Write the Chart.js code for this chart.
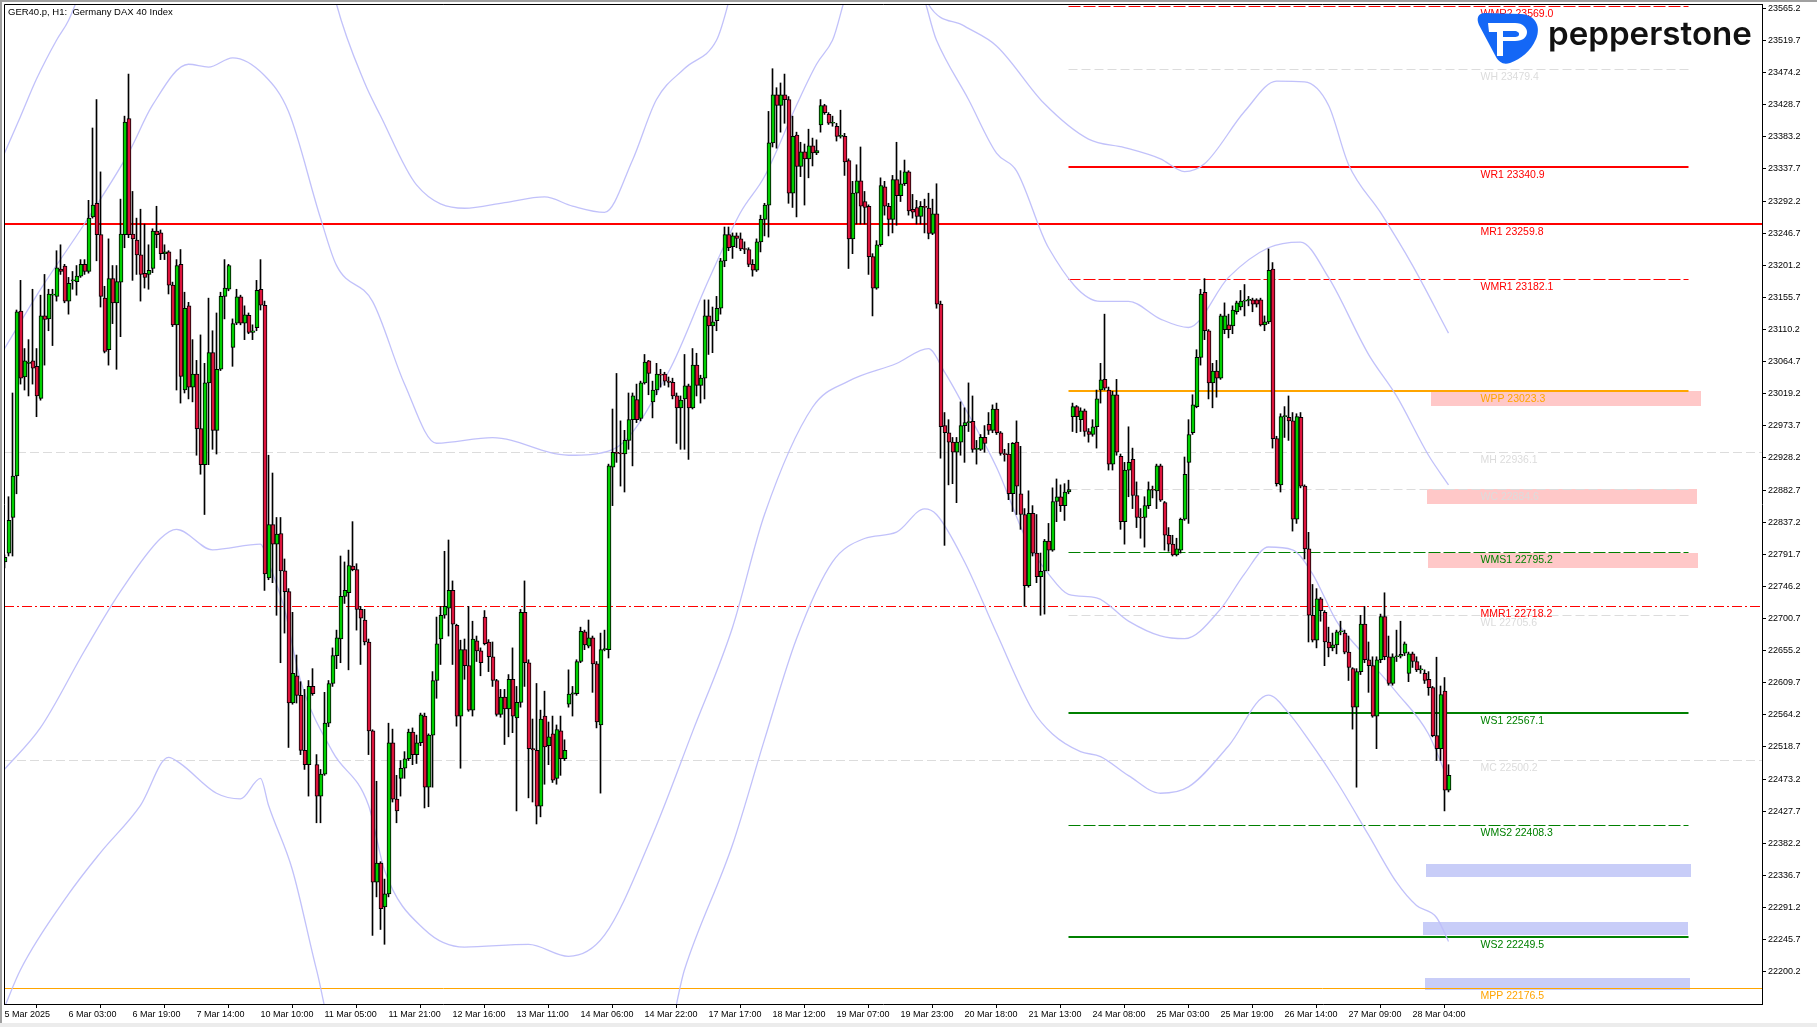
<!DOCTYPE html>
<html><head><meta charset="utf-8">
<script src="https://cdn.jsdelivr.net/npm/chart.js@4.4.1/dist/chart.umd.min.js"></script>
<style>html,body{margin:0;padding:0;background:#fff;overflow:hidden}#wrap{position:relative;width:1817px;height:1027px}</style>
</head><body><div id="wrap"><canvas id="c" width="1817" height="1027"></canvas></div>
<script>
// ---------------- DATA ----------------
const openP=[22780.8,22793.4,22843.8,22902.6,23136.1,23042.9,23062.2,23065.6,23058.0,23012.6,
23129.4,23125.2,23158.8,23157.1,23195.8,23200.0,23150.4,23179.0,23178.1,23185.7,
23202.5,23192.4,23269.7,23289.0,23244.5,23154.6,23081.5,23182.3,23147.9,23177.3,
23244.5,23409.1,23245.3,23236.9,23215.9,23189.9,23188.2,23196.6,23249.5,23247.0,
23217.6,23220.1,23173.1,23116.8,23202.5,23024.4,23143.7,23028.6,23047.1,22969.8,
22918.6,23034.5,23077.3,22967.3,23053.8,23157.1,23167.2,23084.9,23119.3,23156.3,
23119.3,23130.2,23105.9,23112.6,23167.2,23144.5,22758.1,22833.7,22806.0,22821.1,
22768.2,22738.8,22580.9,22619.5,22591.8,22513.7,22493.5,22604.4,22493.5,22449.0,
22480.1,22552.3,22608.6,22648.1,22671.6,22732.1,22737.1,22775.0,22769.9,22713.6,
22698.5,22667.4,22541.4,22327.2,22354.1,22291.9,22310.4,22524.6,22444.8,22474.2,
22488.5,22501.9,22539.7,22507.8,22524.6,22562.4,22461.6,22535.5,22612.8,22671.6,
22705.2,22715.3,22740.5,22690.9,22562.4,22656.5,22633.8,22570.8,22669.1,22654.8,
22702.7,22667.4,22646.4,22612.8,22564.9,22589.3,22572.5,22614.5,22559.9,22581.7,
22709.4,22638.0,22516.2,22513.7,22434.7,22562.4,22520.4,22537.2,22474.2,22541.4,
22501.9,22579.2,22593.5,22594.3,22639.7,22681.7,22661.5,22673.3,22636.3,22549.8,
22656.5,22656.5,22915.2,22936.2,22934.5,22933.7,22953.0,22982.4,23011.0,22984.1,
23034.5,23065.6,23007.6,23024.4,23047.1,23047.1,23037.0,23035.3,23016.0,22999.2,
23011.8,23030.3,22999.2,23059.7,23031.1,23041.2,23129.4,23115.1,23122.7,23140.3,
23207.5,23244.5,23227.7,23242.8,23238.6,23224.3,23223.5,23202.5,23194.1,23234.4,
23266.3,23286.5,23374.7,23442.7,23427.6,23442.7,23436.0,23303.3,23385.6,23341.1,
23362.1,23352.0,23370.5,23360.4,23399.9,23427.6,23415.0,23402.4,23398.2,23383.9,
23383.9,23349.5,23238.6,23303.3,23320.9,23291.5,23284.8,23213.4,23168.9,23230.2,
23312.5,23284.8,23266.3,23322.6,23299.9,23316.7,23333.5,23280.6,23283.1,23270.5,
23284.8,23282.3,23246.2,23273.9,23146.2,22974.0,22963.9,22950.5,22936.2,22950.5,
22974.0,22978.2,22979.9,22940.4,22940.4,22957.2,22975.7,22967.3,22997.5,22963.9,
22934.5,22933.7,22877.4,22950.5,22877.4,22848.0,22747.2,22849.7,22793.4,22759.8,
22768.2,22810.2,22797.6,22866.5,22873.2,22860.6,22879.9,22986.6,23000.9,22982.4,
22995.0,22965.6,22961.4,22972.3,23024.4,23039.5,23024.4,22919.4,23017.7,22930.3,
22837.9,22911.0,22926.1,22874.9,22843.8,22843.8,22860.6,22883.3,22881.6,22916.9,
22864.8,22818.6,22806.0,22790.9,22797.6,22841.3,22921.9,22963.9,23000.9,23070.6,
23163.0,23108.4,23034.5,23051.3,23041.2,23110.1,23116.8,23115.1,23135.3,23142.0,
23150.4,23151.2,23152.1,23152.1,23152.1,23116.8,23121.0,23195.8,22955.5,22890.0,
22986.6,22985.8,22980.7,22841.3,22985.8,22888.3,22799.3,22705.2,22669.9,22728.7,
22709.4,22667.4,22659.0,22663.2,22681.7,22680.0,22653.1,22629.6,22575.0,22625.4,
22692.6,22642.2,22633.8,22562.4,22642.2,22703.5,22646.4,22608.6,22646.4,22647.2,
22651.4,22622.9,22650.6,22639.7,22627.9,22622.9,22614.5,22602.7,22534.7,22516.2,
22597.7,22457.4];
const highP=[22790.9,22873.2,23020.2,23137.8,23179.8,23083.2,23095.8,23167.2,23083.2,23158.8,
23188.2,23167.2,23167.2,23221.8,23230.2,23202.5,23184.0,23192.4,23200.8,23209.2,
23209.2,23293.2,23395.7,23436.0,23333.5,23171.4,23238.6,23200.8,23200.8,23294.9,
23412.5,23472.1,23305.8,23268.0,23280.6,23259.6,23230.2,23252.9,23284.8,23251.2,
23230.2,23221.8,23177.3,23209.2,23223.5,23163.0,23148.7,23095.8,23066.4,23102.5,
23062.2,23154.6,23108.4,23133.6,23163.0,23209.2,23202.5,23125.2,23167.2,23158.8,
23143.7,23133.6,23116.8,23179.8,23209.2,23150.4,22932.0,22906.8,22843.8,22843.8,
22785.0,22743.0,22709.4,22648.9,22611.1,22600.2,22612.8,22629.6,22507.8,22486.8,
22596.0,22612.8,22659.0,22684.2,22789.2,22780.8,22797.6,22837.9,22778.3,22717.8,
22713.6,22671.6,22543.0,22470.0,22356.0,22331.4,22552.3,22543.9,22478.4,22499.4,
22512.0,22543.9,22545.6,22535.5,22566.6,22566.6,22537.2,22625.4,22702.7,22717.8,
22795.9,22811.9,22753.9,22692.6,22669.9,22671.6,22717.8,22696.8,22675.8,22659.0,
22711.9,22670.7,22667.4,22614.5,22600.2,22600.2,22621.2,22659.0,22604.4,22713.6,
22753.9,22642.2,22558.2,22608.6,22570.8,22597.7,22554.0,22562.4,22549.8,22562.4,
22528.8,22627.9,22604.4,22642.2,22688.4,22684.2,22698.5,22675.8,22639.7,22680.0,
22684.2,22919.4,22997.5,23047.9,22980.7,22967.3,23020.2,23020.2,23032.8,23037.0,
23074.8,23066.4,23037.0,23062.2,23053.8,23049.6,23042.9,23041.2,23020.2,23016.0,
23074.8,23032.8,23083.2,23076.5,23045.4,23152.1,23152.1,23142.0,23157.1,23210.9,
23255.4,23255.4,23247.0,23247.0,23247.0,23234.4,23226.0,23209.2,23238.6,23272.2,
23289.0,23419.2,23479.7,23452.8,23459.5,23472.1,23440.2,23412.5,23389.8,23375.5,
23373.0,23394.0,23381.4,23378.9,23436.0,23429.3,23417.5,23412.5,23402.4,23420.9,
23388.1,23352.0,23320.1,23343.6,23368.8,23305.8,23286.8,23217.6,23236.1,23325.1,
23320.1,23289.0,23328.5,23375.5,23335.2,23350.3,23335.2,23301.6,23293.2,23291.5,
23294.9,23303.3,23294.9,23316.7,23150.4,22992.5,22982.4,22957.2,22957.2,23007.6,
22999.2,23034.5,23016.0,22953.0,22961.4,22974.0,22992.5,23003.4,23005.9,22965.6,
22940.4,22948.8,22950.0,22980.7,22944.6,22856.4,22881.6,22860.6,22848.0,22793.4,
22812.7,22835.4,22885.8,22898.4,22890.0,22891.7,22896.7,23005.9,23002.5,22999.2,
22997.5,22969.8,22982.4,23024.4,23062.2,23131.9,23028.6,23022.7,23039.5,22933.7,
22921.9,22972.3,22942.1,22894.2,22856.4,22873.2,22894.2,22888.3,22919.4,22919.4,
22866.5,22829.5,22818.6,22814.4,22843.0,22929.5,22982.4,23017.7,23081.5,23167.2,
23182.3,23110.1,23062.2,23066.4,23131.9,23147.9,23131.9,23143.7,23150.4,23165.5,
23173.9,23157.1,23154.6,23153.8,23154.6,23129.4,23224.3,23205.0,22958.9,22990.8,
23000.9,23016.0,22992.5,22990.8,22992.5,22890.0,22822.8,22748.9,22743.0,22730.4,
22711.9,22688.4,22680.0,22684.2,22696.8,22684.2,22675.8,22631.0,22629.6,22705.2,
22717.8,22667.4,22646.4,22646.4,22706.9,22737.1,22675.8,22650.6,22684.2,22696.8,
22667.4,22653.1,22653.1,22646.4,22633.8,22627.9,22625.4,22604.4,22645.8,22605.0,
22617.0,22493.5];
const lowP=[22772.4,22789.2,22789.2,22877.4,23032.8,23024.4,23016.0,23032.8,22986.6,23010.0,
23059.7,23108.4,23087.4,23150.4,23188.2,23148.0,23131.9,23167.2,23158.8,23184.0,
23188.2,23190.0,23268.0,23207.5,23142.0,23077.0,23059.7,23118.5,23053.8,23100.0,
23226.0,23240.3,23179.8,23188.2,23150.4,23168.9,23167.2,23190.7,23226.0,23209.2,
23209.2,23160.5,23114.3,23024.4,23005.9,23020.2,23011.8,23007.6,22932.0,22905.1,
22848.0,22918.6,22940.4,22933.7,23052.0,23125.2,23165.0,23058.0,23117.0,23116.8,
23095.8,23104.2,23095.8,23108.4,23137.8,22740.5,22755.6,22751.4,22705.2,22638.0,
22680.0,22517.9,22579.2,22580.9,22507.8,22486.8,22449.0,22591.8,22411.2,22411.2,
22478.4,22547.3,22604.4,22629.6,22638.0,22722.0,22627.9,22768.2,22684.2,22635.5,
22663.2,22507.8,22251.6,22306.2,22260.0,22239.0,22306.2,22440.6,22411.2,22449.0,
22474.2,22499.4,22493.5,22495.2,22520.4,22432.2,22433.9,22461.6,22587.6,22635.5,
22701.0,22675.8,22635.5,22548.1,22488.5,22614.5,22569.1,22562.4,22639.7,22619.5,
22663.2,22625.4,22604.4,22562.4,22560.7,22522.1,22533.0,22538.9,22428.0,22575.0,
22604.4,22446.5,22440.6,22409.5,22419.6,22465.8,22493.5,22468.3,22465.8,22478.4,
22499.4,22575.0,22562.4,22591.8,22638.0,22656.5,22659.0,22596.0,22545.6,22453.2,
22654.8,22644.7,22860.6,22921.9,22888.3,22879.9,22940.4,22916.9,22978.2,22980.7,
23032.8,23017.7,22984.9,23017.7,23028.6,23031.1,23028.6,23011.8,22948.8,22940.4,
22940.4,22926.1,22997.5,23016.0,23005.9,23011.8,23074.8,23077.3,23108.4,23131.9,
23199.1,23221.8,23210.9,23226.0,23221.8,23217.6,23199.1,23185.7,23192.4,23220.1,
23242.8,23241.1,23368.8,23367.1,23389.8,23402.4,23289.0,23283.1,23269.7,23326.8,
23286.5,23325.1,23341.9,23357.9,23389.8,23415.0,23400.7,23398.2,23377.2,23381.4,
23328.5,23196.6,23217.6,23259.6,23259.6,23259.6,23188.2,23129.4,23167.2,23228.0,
23272.2,23242.8,23247.0,23257.9,23291.5,23314.2,23272.2,23268.0,23259.6,23259.6,
23247.0,23238.6,23244.5,23140.3,22927.8,22804.3,22890.0,22891.7,22864.8,22932.0,
22921.9,22965.6,22936.2,22919.4,22938.7,22936.2,22961.4,22963.9,22961.4,22932.0,
22923.6,22869.0,22852.2,22848.0,22827.0,22717.8,22745.0,22789.2,22751.4,22705.2,
22706.9,22768.2,22795.9,22837.9,22852.2,22839.6,22877.4,22965.6,22963.9,22965.6,
22958.9,22950.5,22958.9,22942.1,23005.9,23024.4,22911.0,22911.0,22932.0,22827.0,
22806.0,22873.2,22856.4,22829.5,22814.4,22801.8,22856.4,22871.5,22856.4,22866.5,
22797.6,22795.9,22789.2,22789.2,22793.4,22839.6,22835.4,22961.4,22999.2,23059.7,
23095.8,23011.8,22999.2,23014.3,23039.5,23104.2,23098.3,23104.2,23131.9,23137.8,
23129.4,23143.7,23135.3,23142.0,23115.1,23108.4,23118.5,22942.1,22888.3,22879.9,
22957.2,22953.0,22824.5,22835.4,22885.8,22785.0,22667.4,22667.4,22659.0,22696.8,
22633.8,22646.4,22654.8,22650.6,22677.5,22650.6,22612.8,22543.9,22461.6,22621.2,
22638.0,22596.0,22560.7,22516.2,22638.0,22642.2,22606.1,22606.1,22639.7,22644.7,
22648.1,22611.1,22631.3,22625.4,22622.9,22608.6,22591.8,22533.0,22499.4,22499.4,
22428.0,22454.9];
const closeP=[22787.5,22839.6,22902.6,23135.3,23041.2,23065.6,23063.9,23055.5,23016.0,23129.4,
23124.4,23160.5,23160.5,23197.4,23192.4,23150.4,23175.6,23180.6,23185.7,23202.5,
23192.4,23268.0,23286.5,23244.5,23157.1,23079.0,23182.3,23147.9,23178.1,23245.3,
23404.1,23244.5,23238.6,23215.9,23188.2,23184.0,23194.1,23249.5,23244.5,23217.6,
23220.1,23173.1,23116.8,23200.8,23043.7,23140.3,23028.6,23047.1,22969.8,22918.6,
23034.5,23077.3,22967.3,23053.8,23157.1,23168.9,23200.8,23118.5,23156.3,23119.3,
23131.1,23105.9,23108.4,23165.5,23144.5,22764.0,22833.7,22806.0,22820.3,22768.2,
22738.8,22580.9,22622.9,22591.8,22513.7,22493.5,22604.4,22594.3,22449.0,22480.1,
22552.3,22608.6,22648.1,22673.3,22732.1,22740.5,22775.8,22769.9,22713.6,22701.0,
22667.4,22541.4,22327.2,22354.1,22289.4,22310.4,22524.6,22444.8,22428.0,22488.5,
22501.9,22539.7,22507.8,22524.6,22564.1,22461.6,22535.5,22612.8,22664.9,22705.2,
22717.8,22740.5,22692.6,22562.4,22656.5,22633.8,22570.8,22671.6,22654.8,22638.0,
22664.9,22646.4,22612.8,22564.9,22589.3,22572.5,22614.5,22562.4,22581.7,22709.4,
22638.0,22516.2,22514.5,22434.7,22558.2,22518.7,22533.0,22471.7,22543.1,22501.9,
22513.7,22593.5,22595.2,22639.7,22682.5,22663.2,22673.3,22636.3,22554.0,22656.5,
22658.2,22916.9,22936.2,22934.5,22933.7,22953.0,22982.4,23016.0,22982.4,23034.5,
23063.9,23047.9,23024.4,23047.1,23045.4,23037.0,23035.3,23016.0,22999.2,23010.1,
23030.3,22999.2,23059.7,23031.1,23041.2,23129.4,23115.1,23121.0,23140.3,23207.5,
23244.5,23226.0,23242.8,23239.4,23224.3,23223.5,23202.5,23194.1,23234.4,23266.3,
23286.5,23374.7,23442.7,23427.6,23442.7,23436.0,23303.3,23383.9,23341.1,23362.1,
23352.0,23370.5,23360.4,23363.8,23427.6,23417.5,23402.4,23403.2,23383.9,23384.8,
23347.8,23238.6,23303.3,23320.9,23284.8,23283.1,23213.4,23168.9,23230.2,23314.2,
23284.8,23266.3,23322.6,23299.9,23316.7,23333.5,23278.1,23276.4,23270.5,23284.8,
23283.1,23246.2,23273.9,23146.2,22972.3,22963.9,22950.5,22936.2,22950.5,22974.0,
22978.2,22979.0,22940.4,22941.2,22957.2,22948.8,22967.3,22997.5,22963.9,22934.5,
22932.8,22877.4,22948.8,22888.3,22848.0,22747.2,22849.7,22793.4,22759.8,22767.4,
22810.2,22797.6,22866.5,22873.2,22860.6,22879.9,22883.3,23000.9,22986.6,22995.0,
22965.6,22961.4,22972.3,23011.8,23038.7,23026.9,22919.4,23017.7,22936.2,22837.9,
22911.0,22921.9,22874.9,22843.8,22843.0,22860.6,22883.3,22882.4,22916.9,22868.2,
22818.6,22806.0,22790.9,22799.3,22841.3,22905.1,22961.4,23003.4,23070.6,23160.5,
23108.4,23034.5,23051.3,23041.2,23129.4,23129.4,23110.1,23137.8,23147.9,23150.4,
23151.2,23152.9,23146.2,23146.2,23116.8,23121.0,23194.1,22955.5,22891.7,22986.6,
22987.4,22980.7,22841.3,22986.6,22888.3,22799.3,22705.2,22669.9,22728.7,22711.9,
22667.4,22659.0,22663.2,22681.7,22682.5,22653.1,22631.3,22575.0,22625.4,22692.6,
22642.2,22633.8,22562.4,22642.2,22703.5,22646.4,22608.6,22646.4,22647.2,22649.8,
22664.9,22650.6,22639.7,22627.9,22628.8,22612.8,22602.7,22534.7,22516.2,22593.0,
22457.4,22478.4];

const xTickIndex=[0,16,32,48,64,80,96,112,128,144,160,176,192,208,224,240,256,272,288,304,320,336,352];
const xTickLabels=['5 Mar 2025','6 Mar 03:00','6 Mar 19:00','7 Mar 14:00','10 Mar 10:00','11 Mar 05:00','11 Mar 21:00','12 Mar 16:00','13 Mar 11:00','14 Mar 06:00','14 Mar 22:00','17 Mar 17:00','18 Mar 12:00','19 Mar 07:00','19 Mar 23:00','20 Mar 18:00','21 Mar 13:00','24 Mar 08:00','25 Mar 03:00','25 Mar 19:00','26 Mar 14:00','27 Mar 09:00','28 Mar 04:00'];
const yTicks=[22200.2,22245.7,22291.2,22336.7,22382.2,22427.7,22473.2,22518.7,22564.2,22609.7,22655.2,22700.7,22746.2,22791.7,22837.2,22882.7,22928.2,22973.7,23019.2,23064.7,23110.2,23155.7,23201.2,23246.7,23292.2,23337.7,23383.2,23428.7,23474.2,23519.7,23565.2];

// pivot levels (monthly: whole chart; weekly: from week start to week end bar index)
const monthlyNames=['MR1','MH','MMR1','MC','MPP'];
const monthlyValues=[23259.8,22936.1,22718.2,22500.2,22176.5];
const weeklyNames=['WMR2','WH','WR1','WMR1','WPP','WC','WMS1','WL','WS1','WMS2','WS2'];
const weeklyValues=[23569.0,23479.4,23340.9,23182.1,23023.3,22884.6,22795.2,22705.6,22567.1,22408.3,22249.5];
const weekStartIdx=266, weekEndIdx=421, levelLabelIdx=369;

// zones [startIdx, endIdx, low, high]
const zoneStart=[356.6,355.6,355.9,355.4,354.6,355.1];
const zoneEnd=[424.1,423.1,423.4,421.6,420.9,421.4];
const zoneLow=[23002.2,22863.4,22772.6,22334.8,22252.6,22173.8];
const zoneHigh=[23023.1,22884.2,22793.5,22352.8,22270.6,22191.2];
const zoneKind=['supply','supply','supply','demand','demand','demand'];

// envelope bands: [bar index, price]
const bandUpperOuter=[[0,23360],[4,23412],[8,23465],[13,23520],[16,23548],[19,23590],[23,23650],[80,23650],[83,23571],[90,23460],[94,23413],[103,23315],[115,23282],[125,23290],[135,23298],[142,23285],[150,23276],[157,23350],[163,23436],[170,23480],[178,23520],[186,23650],[226,23650],[231,23571],[240,23540],[248,23512],[260,23430],[271,23380],[280,23368],[289,23352],[295,23334],[300,23345],[310,23419],[318,23462],[325,23461],[331,23428],[336,23344],[344,23276],[352,23201],[361,23105]];
const bandUpperInner=[[0,23083],[9,23167],[20,23260],[31,23360],[37,23428],[46,23486],[51,23482],[57,23495],[65,23470],[71,23419],[79,23268],[83,23201],[92,23150],[100,23033],[108,22949],[122,22957],[141,22932],[152,22940],[166,23050],[176,23180],[184,23276],[190,23327],[198,23428],[203,23486],[207,23520],[212,23600],[228,23600],[233,23520],[241,23436],[248,23360],[253,23335],[261,23226],[274,23150],[281,23150],[289,23125],[296,23113],[306,23184],[316,23226],[324,23234],[331,23184],[341,23075],[348,23016],[356,22932],[361,22890]];
const bandLowerInner=[[0,22487],[9,22546],[20,22655],[29,22739],[39,22814],[43,22827],[52,22798],[64,22806],[66,22780],[70,22714],[74,22613],[82,22512],[91,22436],[95,22344],[105,22260],[115,22235],[131,22239],[141,22222],[150,22252],[162,22394],[172,22540],[182,22688],[190,22848],[202,23000],[211,23037],[223,23062],[231,23083],[235,23050],[240,23000],[248,22915],[256,22806],[261,22764],[266,22735],[273,22730],[281,22697],[289,22676],[295,22672],[304,22714],[310,22764],[316,22802],[322,22798],[327,22764],[333,22697],[339,22655],[348,22596],[356,22537],[361,22470]];
const bandLowerOuter=[[0,22150],[4,22203],[16,22310],[24,22369],[34,22436],[41,22504],[44,22495],[53,22453],[59,22445],[64,22474],[66,22436],[72,22344],[78,22203],[83,22100],[165,22100],[170,22203],[182,22380],[190,22529],[198,22672],[207,22781],[215,22814],[223,22823],[230,22856],[233,22848],[240,22781],[248,22680],[257,22571],[262,22537],[269,22512],[274,22505],[281,22478],[289,22453],[296,22462],[306,22520],[316,22592],[321,22567],[326,22529],[333,22470],[341,22394],[348,22327],[353,22294],[358,22277],[361,22243]];

// ---------------- STYLES ----------------
const BULL='#00d000', BEAR='#dc143c', BAND='rgba(190,190,250,0.95)';
const RED='#ff0000', ORANGE='#ffa500', GREEN='#008000', LGRAY='#dcdcdc';
const levelStyle={
  MR1:{c:RED,w:2,d:[]}, MH:{c:LGRAY,w:1,d:[9,4]}, MMR1:{c:RED,w:1,d:[10,3,2,3]}, MC:{c:LGRAY,w:1,d:[9,4]}, MPP:{c:ORANGE,w:1,d:[]},
  WMR2:{c:RED,w:1,d:[12,3]}, WH:{c:LGRAY,w:1,d:[9,4]}, WR1:{c:RED,w:2,d:[]}, WMR1:{c:RED,w:1,d:[12,3]}, WPP:{c:ORANGE,w:2,d:[]},
  WC:{c:LGRAY,w:1,d:[9,4]}, WMS1:{c:GREEN,w:1,d:[12,3]}, WL:{c:LGRAY,w:1,d:[9,4]}, WS1:{c:GREEN,w:2,d:[]}, WMS2:{c:GREEN,w:1,d:[12,3]}, WS2:{c:GREEN,w:2,d:[]}
};
const zoneColor={supply:'#ffc8c8', demand:'#c8cdf8'};
const FONT='"Liberation Sans", Arial, sans-serif';

// ---------------- BUILD ----------------
const idx=openP.map((_,i)=>i);
const bodyData=idx.map(i=>({x:i,y:[openP[i],closeP[i]]}));
const wickData=idx.map(i=>({x:i,y:[Math.min(lowP[i],openP[i],closeP[i]),Math.max(highP[i],openP[i],closeP[i])]}));
const bodyColors=idx.map(i=>closeP[i]>=openP[i]?BULL:BEAR);
const toXY=a=>a.map(([x,y])=>({x,y}));
const bandDs=a=>({type:'line',data:toXY(a),borderColor:BAND,borderWidth:1.3,pointRadius:0,tension:0.4,cubicInterpolationMode:'monotone',order:3,clip:0});

function hLine(c,x1,x2,py,st){
  c.save(); c.strokeStyle=st.c; c.lineWidth=st.w; c.setLineDash(st.d);
  const y = st.w%2===1 ? Math.round(py)+0.5 : Math.round(py);
  c.beginPath(); c.moveTo(x1,y); c.lineTo(x2,y); c.stroke(); c.restore();
}

const overlay={
  id:'overlay',
  beforeDraw(chart){
    const c=chart.ctx; c.save();
    c.fillStyle='#fff'; c.fillRect(0,0,chart.width,chart.height);
    c.fillStyle='#a0a0a0'; c.fillRect(0,0,chart.width,2); c.fillRect(0,0,2,chart.height);
    c.fillStyle='#ececec'; c.fillRect(0,chart.height-4,chart.width,4);
    c.restore();
  },
  beforeDatasetsDraw(chart){
    const c=chart.ctx, xs=chart.scales.x, ys=chart.scales.y, a=chart.chartArea;
    c.save(); c.beginPath(); c.rect(a.left,a.top,a.right-a.left,a.bottom-a.top); c.clip();
    for(let k=0;k<zoneStart.length;k++){
      const x1=xs.getPixelForValue(zoneStart[k]), x2=xs.getPixelForValue(zoneEnd[k]);
      const y1=ys.getPixelForValue(zoneHigh[k]), y2=ys.getPixelForValue(zoneLow[k]);
      c.fillStyle=zoneColor[zoneKind[k]]; c.fillRect(Math.round(x1),Math.round(y1),Math.round(x2-x1),Math.round(y2-y1));
    }
    monthlyNames.forEach((n,k)=>hLine(c,a.left,a.right,ys.getPixelForValue(monthlyValues[k]),levelStyle[n]));
    const wx1=xs.getPixelForValue(weekStartIdx), wx2=xs.getPixelForValue(weekEndIdx);
    weeklyNames.forEach((n,k)=>hLine(c,wx1,wx2,ys.getPixelForValue(weeklyValues[k]),levelStyle[n]));
    c.restore();
  },
  afterDatasetsDraw(chart){
    const c=chart.ctx, xs=chart.scales.x, ys=chart.scales.y, a=chart.chartArea;
    c.save(); c.beginPath(); c.rect(a.left,a.top,a.right-a.left,a.bottom-a.top); c.clip();
    c.font='10.5px '+FONT; c.textBaseline='middle'; c.textAlign='left';
    const lx=xs.getPixelForValue(levelLabelIdx);
    const all=monthlyNames.map((n,k)=>[n,monthlyValues[k]]).concat(weeklyNames.map((n,k)=>[n,weeklyValues[k]]));
    all.forEach(([n,v])=>{ c.fillStyle=levelStyle[n].c; c.fillText(n+' '+v.toFixed(1), lx, ys.getPixelForValue(v)+8); });
    c.restore();
    c.save(); c.strokeStyle='#000'; c.lineWidth=1; c.beginPath();
    c.moveTo(a.left+0.5,a.bottom); c.lineTo(a.left+0.5,a.top+0.5); c.lineTo(a.right,a.top+0.5); c.stroke();
    c.fillStyle='#000'; c.font='9.5px '+FONT; c.textBaseline='middle'; c.textAlign='left';
    c.fillText('GER40.p, H1:  Germany DAX 40 Index', 8, 12.5);
    c.restore();
    drawLogo(c);
  }
};

function drawLogo(c){
  const BLUE='#1467f6';
  c.save();
  c.fillStyle=BLUE; c.beginPath();
  c.moveTo(1485,13); c.lineTo(1521,14);
  c.bezierCurveTo(1536,15,1541,27,1536,39);
  c.bezierCurveTo(1531,51,1521,59,1510,63);
  c.bezierCurveTo(1503,65,1499,62,1496,57);
  c.lineTo(1479,25);
  c.bezierCurveTo(1476,18,1478,13,1485,13);
  c.closePath(); c.fill();
  c.fillStyle='#fff'; c.beginPath();
  c.moveTo(1488,23); c.lineTo(1515,23);
  c.bezierCurveTo(1523,23,1527,28,1527,32);
  c.bezierCurveTo(1527,37,1523,41,1515,41);
  c.lineTo(1503,41); c.lineTo(1503,56); c.lineTo(1497,56); c.lineTo(1497,32); c.lineTo(1489,32);
  c.closePath(); c.fill();
  c.fillStyle=BLUE; c.beginPath();
  c.moveTo(1503,31); c.lineTo(1514,31); c.bezierCurveTo(1518,31,1519,33,1519,34); c.bezierCurveTo(1519,36,1518,37,1514,37); c.lineTo(1503,37); c.closePath(); c.fill();
  c.fillStyle='#111'; c.textBaseline='alphabetic'; c.textAlign='left';
  let fs=33; c.font='600 '+fs+'px Inter, "Liberation Sans", sans-serif';
  const w=c.measureText('pepperstone').width; fs=fs*204/w;
  c.font='600 '+fs.toFixed(2)+'px Inter, "Liberation Sans", sans-serif';
  c.fillText('pepperstone',1548,45);
  c.restore();
}

Chart.defaults.font.family=FONT;
new Chart(document.getElementById('c'),{
  type:'bar',
  data:{datasets:[
    {label:'body',xAxisID:'xb',data:bodyData,backgroundColor:bodyColors,borderColor:'#000',borderWidth:1,borderSkipped:false,barThickness:4,grouped:false,minBarLength:1,order:0},
    {label:'wick',data:wickData,backgroundColor:'#000',borderWidth:0,barThickness:1,grouped:false,order:1},
    bandDs(bandUpperOuter),bandDs(bandUpperInner),bandDs(bandLowerInner),bandDs(bandLowerOuter)
  ]},
  plugins:[overlay],
  options:{
    responsive:false, animation:false, devicePixelRatio:1, events:[],
    layout:{padding:{left:4,top:4,right:0,bottom:0}},
    plugins:{legend:{display:false},tooltip:{enabled:false},title:{display:false}},
    scales:{
      x:{type:'linear',min:-0.125,max:439.375,offset:false,position:'bottom',
        afterBuildTicks:s=>{s.ticks=xTickIndex.map(v=>({value:v}));},
        afterFit:s=>{s.height=23;s.paddingLeft=0;s.paddingRight=0;},
        ticks:{autoSkip:false,maxRotation:0,minRotation:0,align:'start',padding:1,color:'#000',font:{size:9,family:FONT},
          callback:(v)=>{const k=xTickIndex.indexOf(v);return k>=0?xTickLabels[k]:'';}},
        grid:{drawOnChartArea:false,drawTicks:true,tickLength:4,color:'#000'},
        border:{display:true,color:'#000'}},
      xb:{type:'linear',display:false,min:-0.25,max:439.25,offset:false,position:'bottom'},
      y:{position:'right',min:22154.4,max:23571.4,
        afterBuildTicks:s=>{s.ticks=yTicks.map(v=>({value:v}));},
        afterFit:s=>{s.width=55;s.paddingTop=0;s.paddingBottom=0;},
        ticks:{autoSkip:false,color:'#000',padding:2,font:{size:9,family:FONT},callback:v=>Number(v).toFixed(1)},
        grid:{drawOnChartArea:false,drawTicks:true,tickLength:4,color:'#000'},
        border:{display:true,color:'#000'}}
    }
  }
});
</script></body></html>
